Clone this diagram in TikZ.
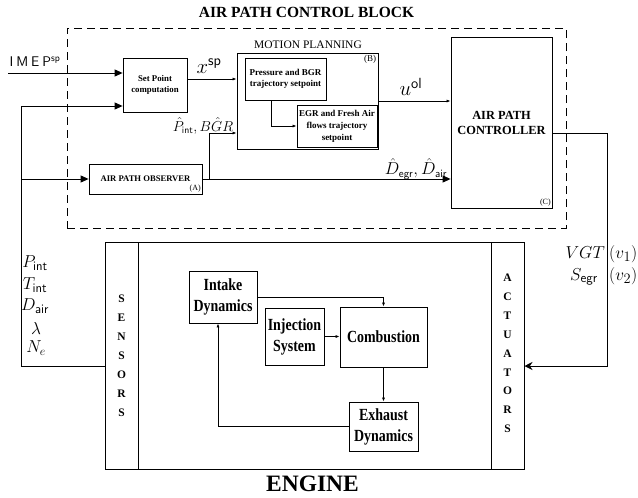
\documentclass[tikz,border=0pt]{standalone}
\usepackage{fontspec}
\setmainfont{Liberation Serif}
\newfontfamily\cnd[FakeStretch=0.82]{Liberation Serif}
\usetikzlibrary{arrows.meta,calc}
\begin{document}
\begin{tikzpicture}[x=1pt,y=-1pt,
  box/.style={draw, line width=0.8pt, inner sep=1pt, align=center},
  eng/.style={box, font=\cnd\bfseries\fontsize{17}{21}\selectfont},
  strip/.style={draw, line width=1pt, minimum width=33pt, minimum height=227pt, inner sep=0pt},
  letter/.style={inner sep=0pt, font=\bfseries\fontsize{11.5}{12}\selectfont},
  smallarr/.style={-{Latex[length=4pt,width=3pt]}, line width=0.7pt},
  bigarr/.style={-{Triangle[length=8pt,width=7pt]}, line width=0.9pt},
  actarr/.style={-{Stealth[length=8pt,width=8pt]}, line width=0.9pt},
  mathlbl/.style={inner sep=0pt}]
\useasboundingbox (0,0) rectangle (638,498);

% title and dashed control block
\node[font=\bfseries\fontsize{15.5}{18}\selectfont] (title) at (306.5,12.5) {AIR PATH CONTROL BLOCK};
\node[draw, line width=0.9pt, dash pattern=on 8pt off 5pt, minimum width=499pt, minimum height=200pt, inner sep=0pt] (ctrlblk) at (316.5,128) {};

% control blocks
\node[box, minimum width=64pt, minimum height=54pt, font=\bfseries\fontsize{8.8}{11}\selectfont] (setpt) at (155,85) {Set Point\\computation};
\node[box, minimum width=141pt, minimum height=96pt] (mp) at (307.5,101) {};
\node[font=\fontsize{11.5}{13}\selectfont] (mplbl) at (308,45) {MOTION PLANNING};
\node[anchor=north east, inner sep=2pt, font=\fontsize{9}{10}\selectfont] (mpB) at (mp.north east) {(B)};
\node[box, minimum width=81pt, minimum height=42pt, font=\bfseries\fontsize{9}{11}\selectfont] (mp1) at (285.5,79) {Pressure and BGR\\trajectory setpoint};
\node[box, minimum width=80pt, minimum height=42pt, font=\bfseries\fontsize{9}{12}\selectfont] (mp2) at (337,126) {EGR and Fresh Air\\flows trajectory\\setpoint};
\node[box, minimum width=113pt, minimum height=30pt, font=\bfseries\fontsize{8.6}{10}\selectfont] (obs) at (145.5,179) {AIR PATH OBSERVER};
\node[anchor=south east, inner sep=1.5pt, font=\fontsize{8}{9}\selectfont] (obsA) at (obs.south east) {(A)};
\node[box, minimum width=101pt, minimum height=171pt, font=\bfseries\fontsize{12.4}{15}\selectfont] (ctrl) at (501.5,122.5) {AIR PATH\\CONTROLLER};
\node[anchor=south east, inner sep=1.5pt, font=\fontsize{8}{9}\selectfont] (ctrlC) at (ctrl.south east) {(C)};

% engine
\node[draw, line width=1pt, minimum width=419pt, minimum height=227pt, inner sep=0pt] (engine) at (314.5,355.5) {};
\node[strip] (sens) at (121.5,355.5) {};
\node[strip] (actu) at (507.5,355.5) {};
\foreach \l [count=\i] in {S,E,N,S,O,R,S} \node[letter] (sl\i) at (121.5, 280.1+18.9*\i) {\l};
\foreach \l [count=\i] in {A,C,T,U,A,T,O,R,S} \node[letter] (al\i) at (507.5, 258.6+18.94*\i) {\l};
\node[font=\bfseries\fontsize{23.5}{26}\selectfont] (englbl) at (312.5,483.5) {ENGINE};

\node[eng, minimum width=68pt, minimum height=52pt] (intake) at (223,297) {Intake\\Dynamics};
\node[eng, minimum width=59pt, minimum height=57pt] (inj) at (294.5,336.5) {Injection\\System};
\node[eng, minimum width=87pt, minimum height=60pt] (comb) at (383.5,337) {Combustion};
\node[eng, minimum width=69pt, minimum height=49pt] (exh) at (383.5,426.5) {Exhaust\\Dynamics};

% labels
\node[mathlbl, font=\fontsize{14}{16}\selectfont] (imeplbl) at (35,62) {\textsf{I\hspace{3pt}M\hspace{3pt}E\hspace{3pt}P}$^{\mathsf{sp}}$};
\node[mathlbl, font=\fontsize{21}{24}\selectfont] (xsplbl) at (209,66) {$x^{\mathsf{sp}}$};
\node[mathlbl, font=\fontsize{21}{24}\selectfont] (uollbl) at (411,87) {$u^{\mathsf{ol}}$};
\node[mathlbl, font=\fontsize{14}{16}\selectfont] (phatlbl) at (203,126) {$\hat{P}_{\mathsf{int}}, B\hat{G}R$};
\node[mathlbl, font=\fontsize{16}{18}\selectfont] (dhatlbl) at (416,169) {$\hat{D}_{\mathsf{egr}}, \hat{D}_{\mathsf{air}}$};
\node[mathlbl, font=\fontsize{18.5}{20}\selectfont] (m1) at (35,263) {$P_{\mathsf{int}}$};
\node[mathlbl, font=\fontsize{18.5}{20}\selectfont] (m2) at (35,285) {$T_{\mathsf{int}}$};
\node[mathlbl, font=\fontsize{18.5}{20}\selectfont] (m3) at (35,306) {$D_{\mathsf{air}}$};
\node[mathlbl, font=\fontsize{18.5}{20}\selectfont] (m4) at (36,328) {$\lambda$};
\node[mathlbl, font=\fontsize{18.5}{20}\selectfont] (m5) at (36,348) {$N_e$};
\node[mathlbl, anchor=base east, font=\fontsize{19}{21}\selectfont] (vgt) at (605,258) {$VGT$};
\node[mathlbl, anchor=base west, font=\fontsize{19}{21}\selectfont] (v1) at (609,258) {$(v_1)$};
\node[mathlbl, anchor=base east, font=\fontsize{19}{21}\selectfont] (segr) at (598,280) {$S_{\mathsf{egr}}$};
\node[mathlbl, anchor=base west, font=\fontsize{19}{21}\selectfont] (v2) at (609,280) {$(v_2)$};

% connectors
\coordinate (imep0) at (8,73);
\draw[bigarr] (imep0) -- (setpt.west |- imep0);
\coordinate (fbB) at (21,366);
\coordinate (fbT) at (21,106);
\coordinate (fbM) at (21,179);
\draw[bigarr] (sens.west |- fbB) -- (fbB) -- (fbT) -- (setpt.west |- fbT);
\draw[bigarr] (fbM) -- (obs.west);
\draw[bigarr] (obs.east) -- (ctrl.west |- obs.east);
\coordinate (br0) at (209,179);
\coordinate (br1) at (209,133);
\draw[smallarr] (br0) -- (br1) -- (mp.west |- br1);
\draw[smallarr] (setpt.east |- mp1.west) -- (mp.west |- mp1.west);
\coordinate (mpa) at ($(mp1.south west)!0.33!(mp1.south east)$);
\draw[smallarr] (mpa) |- (mp2.west);
\draw[smallarr] (mp.east) -- (ctrl.west |- mp.east);
\coordinate (c0) at (552,133);
\coordinate (c1) at (607,133);
\coordinate (c2) at (607,366);
\draw[actarr] (ctrl.east |- c0) -- (c1) -- (c2) -- (actu.east |- c2);

\draw[smallarr] (intake.east) -| (comb.north);
\draw[smallarr] (inj.east) -- (comb.west |- inj.east);
\draw[smallarr] (comb.south) -- (exh.north);
\coordinate (ex1) at ($(intake.south)+(-5,0)$);
\draw[smallarr] (exh.west) -| (ex1);
\end{tikzpicture}
\end{document}
